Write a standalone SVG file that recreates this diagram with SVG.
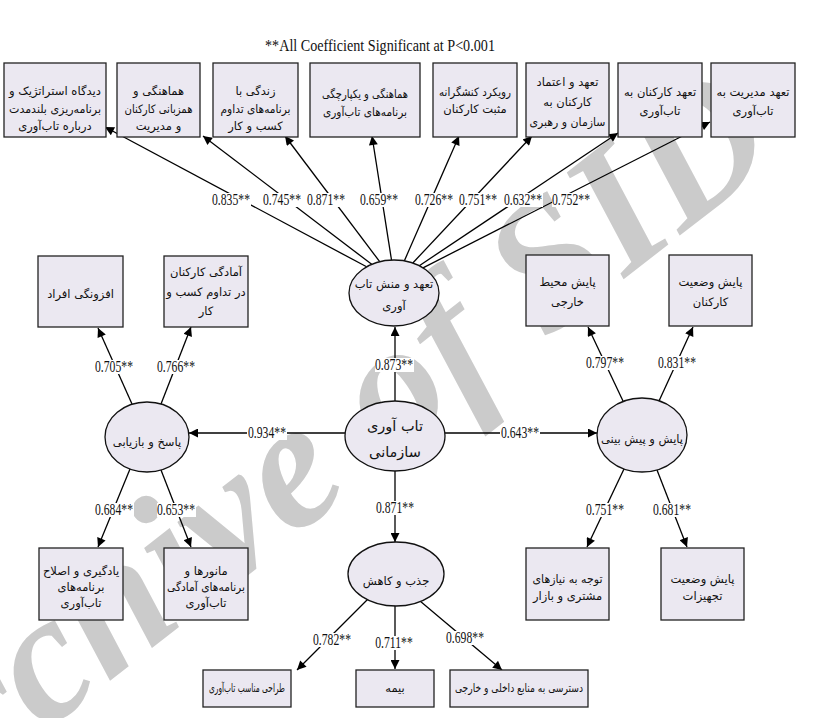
<svg xmlns="http://www.w3.org/2000/svg" width="818" height="718" viewBox="0 0 818 718">
<defs>
<marker id="ah" viewBox="0 0 10 10" refX="10" refY="5" markerWidth="11" markerHeight="9" markerUnits="userSpaceOnUse" orient="auto"><path d="M0,0 L10,5 L0,10 z" fill="#000"/></marker>
<style>
.box{fill:#ebe8f1;stroke:#222;stroke-width:1.3}
.ell{fill:#ebe8f1;stroke:#111;stroke-width:1.3}
.fa{font-family:"DejaVu Sans",sans-serif;font-size:11.5px;fill:#111;text-anchor:middle}
.c line{stroke:#000;stroke-width:1.3;marker-end:url(#ah)}
.lb rect{fill:#fff}
.lb text{font-family:"Liberation Serif",serif;font-size:16px;fill:#111;text-anchor:middle}
.wm{font-family:"Liberation Serif",serif;font-style:italic;font-weight:bold;font-size:182px;fill:#cbcbcb}
</style>
</defs>
<rect width="818" height="718" fill="#fff"/>
<text class="wm" transform="translate(-108,851) rotate(-38)">Archive of SID</text>
<text x="380" y="51" font-family="Liberation Serif,serif" font-size="16" fill="#111" text-anchor="middle" textLength="230" lengthAdjust="spacingAndGlyphs">**All Coefficient Significant at P&lt;0.001</text>

<g id="connectors" class="c">
<line x1="366.6" y1="266.8" x2="105" y2="127"/>
<line x1="371.7" y1="264.3" x2="203" y2="136"/>
<line x1="379.7" y1="261.7" x2="285" y2="136"/>
<line x1="391.5" y1="260" x2="372" y2="136"/>
<line x1="404.3" y1="260.9" x2="459" y2="136"/>
<line x1="412.8" y1="263" x2="532" y2="136"/>
<line x1="419.3" y1="265.7" x2="618" y2="133"/>
<line x1="423" y1="267.8" x2="710" y2="122"/>
<line x1="395" y1="401" x2="395" y2="327"/>
<line x1="345" y1="433" x2="189" y2="433"/>
<line x1="445" y1="433" x2="597" y2="433"/>
<line x1="395" y1="471" x2="395" y2="542"/>
<line x1="132" y1="404" x2="98" y2="328"/>
<line x1="161" y1="404" x2="191" y2="327"/>
<line x1="130" y1="469" x2="98" y2="547"/>
<line x1="161" y1="470" x2="191" y2="547"/>
<line x1="623" y1="401" x2="588" y2="327"/>
<line x1="659" y1="401" x2="693" y2="327"/>
<line x1="624" y1="469" x2="587" y2="547"/>
<line x1="657" y1="470" x2="687" y2="547"/>
<line x1="368" y1="599" x2="297" y2="670"/>
<line x1="395" y1="605" x2="395" y2="669"/>
<line x1="420" y1="601" x2="502" y2="670"/>
</g>

<g id="labels" class="lb">
<rect x="212" y="193" width="39" height="14"/><text transform="translate(231,205) scale(0.73,1)">0.835**</text>
<rect x="263" y="193" width="39" height="14"/><text transform="translate(282,205) scale(0.73,1)">0.745**</text>
<rect x="307" y="193" width="39" height="14"/><text transform="translate(326,205) scale(0.73,1)">0.871**</text>
<rect x="360" y="193" width="39" height="14"/><text transform="translate(379,205) scale(0.73,1)">0.659**</text>
<rect x="415" y="193" width="39" height="14"/><text transform="translate(434,205) scale(0.73,1)">0.726**</text>
<rect x="459" y="193" width="39" height="14"/><text transform="translate(478,205) scale(0.73,1)">0.751**</text>
<rect x="504" y="193" width="39" height="14"/><text transform="translate(523,205) scale(0.73,1)">0.632**</text>
<rect x="552" y="193" width="39" height="14"/><text transform="translate(571,205) scale(0.73,1)">0.752**</text>
<rect x="375" y="358" width="39" height="14"/><text transform="translate(394,370) scale(0.73,1)">0.873**</text>
<rect x="247" y="426" width="40" height="14"/><text transform="translate(267,438) scale(0.73,1)">0.934**</text>
<rect x="500" y="426" width="40" height="14"/><text transform="translate(520,438) scale(0.73,1)">0.643**</text>
<rect x="375" y="501" width="40" height="14"/><text transform="translate(395,513) scale(0.73,1)">0.871**</text>
<rect x="95" y="360" width="39" height="14"/><text transform="translate(114,372) scale(0.73,1)">0.705**</text>
<rect x="157" y="360" width="39" height="14"/><text transform="translate(176,372) scale(0.73,1)">0.766**</text>
<rect x="586" y="356" width="39" height="14"/><text transform="translate(605,368) scale(0.73,1)">0.797**</text>
<rect x="658" y="356" width="39" height="14"/><text transform="translate(677,368) scale(0.73,1)">0.831**</text>
<rect x="95" y="503" width="39" height="14"/><text transform="translate(114,515) scale(0.73,1)">0.684**</text>
<rect x="157" y="503" width="39" height="14"/><text transform="translate(176,515) scale(0.73,1)">0.653**</text>
<rect x="586" y="503" width="39" height="14"/><text transform="translate(605,515) scale(0.73,1)">0.751**</text>
<rect x="653" y="503" width="39" height="14"/><text transform="translate(672,515) scale(0.73,1)">0.681**</text>
<rect x="312" y="633" width="40" height="14"/><text transform="translate(332,645) scale(0.73,1)">0.782**</text>
<rect x="375" y="636" width="39" height="14"/><text transform="translate(394,648) scale(0.73,1)">0.711**</text>
<rect x="445" y="631" width="40" height="14"/><text transform="translate(465,643) scale(0.73,1)">0.698**</text>
</g>

<g id="n-t1"><rect class="box" x="4" y="63" width="102" height="74"/><text class="fa" x="55" y="95" textLength="92" lengthAdjust="spacingAndGlyphs">دیدگاه استراتژیک و</text><text class="fa" x="55" y="113" textLength="92" lengthAdjust="spacingAndGlyphs">برنامه‌ریزی بلندمدت</text><text class="fa" x="55" y="130">درباره تاب‌آوری</text></g>
<g id="n-t2"><rect class="box" x="117" y="63" width="83" height="74"/><text class="fa" x="158.5" y="95">هماهنگی و</text><text class="fa" x="158.5" y="113" textLength="68" lengthAdjust="spacingAndGlyphs">همزبانی کارکنان</text><text class="fa" x="158.5" y="130">و مدیریت</text></g>
<g id="n-t3"><rect class="box" x="213" y="63" width="85" height="74"/><text class="fa" x="255.5" y="95">زندگی با</text><text class="fa" x="255.5" y="113" textLength="70" lengthAdjust="spacingAndGlyphs">برنامه‌های تداوم</text><text class="fa" x="255.5" y="130">کسب و کار</text></g>
<g id="n-t4"><rect class="box" x="310" y="63" width="110" height="74"/><text class="fa" x="365" y="98" textLength="86" lengthAdjust="spacingAndGlyphs">هماهنگی و یکپارچگی</text><text class="fa" x="365" y="116" textLength="84" lengthAdjust="spacingAndGlyphs">برنامه‌های تاب‌آوری</text></g>
<g id="n-t5"><rect class="box" x="433" y="63" width="84" height="74"/><text class="fa" x="475" y="96" textLength="72" lengthAdjust="spacingAndGlyphs">رویکرد کنشگرانه</text><text class="fa" x="475" y="113">مثبت کارکنان</text></g>
<g id="n-t6"><rect class="box" x="526" y="63" width="83" height="74"/><text class="fa" x="567.5" y="86">تعهد و اعتماد</text><text class="fa" x="567.5" y="106">کارکنان به</text><text class="fa" x="567.5" y="126" textLength="76" lengthAdjust="spacingAndGlyphs">سازمان و رهبری</text></g>
<g id="n-t7"><rect class="box" x="618" y="63" width="84" height="74"/><text class="fa" x="660" y="96">تعهد کارکنان به</text><text class="fa" x="660" y="115">تاب‌آوری</text></g>
<g id="n-t8"><rect class="box" x="711" y="63" width="84" height="74"/><text class="fa" x="753" y="96">تعهد مدیریت به</text><text class="fa" x="753" y="115">تاب‌آوری</text></g>

<g id="n-a"><rect class="box" x="38" y="256" width="85" height="71"/><text class="fa" x="80.5" y="298">افزونگی افراد</text></g>
<g id="n-b"><rect class="box" x="164" y="256" width="84" height="71"/><text class="fa" x="206" y="276">آمادگی کارکنان</text><text class="fa" x="206" y="296">در تداوم کسب و</text><text class="fa" x="206" y="315">کار</text></g>
<g id="n-c"><rect class="box" x="526" y="255" width="83" height="71"/><text class="fa" x="567.5" y="286">پایش محیط</text><text class="fa" x="567.5" y="306">خارجی</text></g>
<g id="n-d"><rect class="box" x="669" y="255" width="83" height="71"/><text class="fa" x="710.5" y="286">پایش وضعیت</text><text class="fa" x="710.5" y="306">کارکنان</text></g>

<g id="n-g"><rect class="box" x="39" y="548" width="84" height="72"/><text class="fa" x="81" y="575">یادگیری و اصلاح</text><text class="fa" x="81" y="591">برنامه‌های</text><text class="fa" x="81" y="607">تاب‌آوری</text></g>
<g id="n-h"><rect class="box" x="164" y="548" width="84" height="72"/><text class="fa" x="206" y="575">مانورها و</text><text class="fa" x="206" y="591" textLength="78" lengthAdjust="spacingAndGlyphs">برنامه‌های آمادگی</text><text class="fa" x="206" y="607">تاب‌آوری</text></g>
<g id="n-e"><rect class="box" x="526" y="548" width="83" height="72"/><text class="fa" x="567.5" y="583" textLength="70" lengthAdjust="spacingAndGlyphs">توجه به نیازهای</text><text class="fa" x="567.5" y="600">مشتری و بازار</text></g>
<g id="n-f"><rect class="box" x="661" y="548" width="83" height="72"/><text class="fa" x="702.5" y="583">پایش وضعیت</text><text class="fa" x="702.5" y="600">تجهیزات</text></g>

<g id="n-i"><rect class="box" x="203" y="670" width="88" height="37"/><text class="fa" x="247" y="692" textLength="76" lengthAdjust="spacingAndGlyphs">طراحی مناسب تاب‌آوری</text></g>
<g id="n-j"><rect class="box" x="356" y="670" width="78" height="37"/><text class="fa" x="395" y="692">بیمه</text></g>
<g id="n-k"><rect class="box" x="450" y="670" width="138" height="37"/><text class="fa" x="519" y="692" textLength="128" lengthAdjust="spacingAndGlyphs">دسترسی به منابع داخلی و خارجی</text></g>

<g id="n-commit"><ellipse class="ell" cx="394" cy="293" rx="45" ry="33"/><text class="fa" x="394" y="288">تعهد و منش تاب</text><text class="fa" x="394" y="310">آوری</text></g>
<g id="n-org"><ellipse class="ell" cx="395" cy="436" rx="50" ry="35"/><text class="fa" x="395" y="431" style="font-size:14.5px">تاب آوری</text><text class="fa" x="395" y="457" style="font-size:14.5px">سازمانی</text></g>
<g id="n-resp"><ellipse class="ell" cx="147" cy="437" rx="42" ry="35"/><text class="fa" x="147" y="446">پاسخ و بازیابی</text></g>
<g id="n-mon"><ellipse class="ell" cx="642" cy="435" rx="45" ry="37"/><text class="fa" x="642" y="443">پایش و پیش بینی</text></g>
<g id="n-abs"><ellipse class="ell" cx="396" cy="574" rx="48" ry="32"/><text class="fa" x="396" y="585">جذب و کاهش</text></g>
</svg>
